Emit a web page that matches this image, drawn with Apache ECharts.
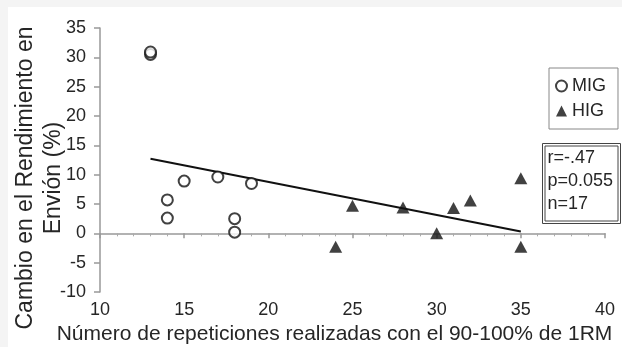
<!DOCTYPE html>
<html>
<head>
<meta charset="utf-8">
<script src="https://cdn.jsdelivr.net/npm/echarts@6/dist/echarts.min.js"></script>
<style>
  html, body { margin: 0; padding: 0; background: #f4f4f4; }
  #chart { width: 622px; height: 347px; }
</style>
</head>
<body>
<div id="chart"></div>
<script>
// grupo MIG (circulos), dos puntos casi superpuestos en x=13
var migData = [[13, 30.5], [13, 30.9], [14, 5.7], [14, 2.6], [15, 8.9], [17, 9.6], [18, 2.5], [18, 0.2], [19, 8.5]];
// grupo HIG (triangulos)
var higData = [[24, -2.3], [25, 4.7], [28, 4.4], [30, 0], [31, 4.3], [32, 5.6], [35, 9.4], [35, -2.3]];
// recta de regresion
var fitLine = [[13, 12.7], [35, 0.3]];
var statsLines = ["r=-.47", "p=0.055", "n=17"];

var textColor = "#262626";
var fontFamily = "Liberation Sans, Arial, sans-serif";

var chart = echarts.init(document.getElementById("chart"));
chart.setOption({
  backgroundColor: "#f4f4f4",
  animation: false,
  textStyle: { fontFamily: fontFamily, color: textColor },
  graphic: [
    {
      type: "rect",
      z: -10,
      shape: { x: 8, y: 7, width: 614, height: 340 },
      style: { fill: "#fff" },
    },
    {
      type: "group",
      left: 542,
      top: 143,
      children: [
        { type: "rect", shape: { x: 0, y: 0, width: 78, height: 80 }, style: { fill: "#fff", stroke: "#444", lineWidth: 1 } },
        { type: "rect", shape: { x: 2.5, y: 2.5, width: 73, height: 75 }, style: { fill: "none", stroke: "#444", lineWidth: 1 } },
        {
          type: "text",
          left: 5,
          top: 3,
          style: {
            text: statsLines.join("\n"),
            fontSize: 18,
            lineHeight: 23,
            fontFamily: fontFamily,
            fill: textColor,
          },
        },
      ],
    },
  ],
  legend: {
    orient: "vertical",
    left: 549,
    top: 68,
    padding: [9, 12, 9, 6],
    itemGap: 7,
    itemWidth: 11,
    itemHeight: 11,
    borderColor: "#888",
    borderWidth: 1,
    backgroundColor: "#fff",
    textStyle: { fontSize: 18, color: textColor, fontFamily: fontFamily },
    data: [
      { name: "MIG", icon: "circle" },
      { name: "HIG", icon: "triangle" },
    ],
  },
  grid: { left: 100, right: 17, top: 28, bottom: 55, containLabel: false, outerBoundsMode: "none" },
  xAxis: {
    type: "value",
    min: 10,
    max: 40,
    interval: 5,
    name: "Número de repeticiones realizadas con el 90-100% de 1RM",
    nameLocation: "middle",
    nameGap: 32,
    nameMoveOverlap: false,
    nameTextStyle: { fontSize: 21, color: textColor, padding: [0, 36, 0, 0] },
    axisLine: { show: true, lineStyle: { color: "#999", width: 1.5 } },
    axisTick: { show: true, length: 5, lineStyle: { color: "#999", width: 1.5 } },
    minorTick: { show: true, splitNumber: 5, length: 3, lineStyle: { color: "#aaa" } },
    axisLabel: { fontSize: 18, color: textColor, margin: 9 },
    splitLine: { show: false },
  },
  yAxis: {
    type: "value",
    min: -10,
    max: 35,
    interval: 5,
    name: "Cambio en el Rendimiento en\nEnvión (%)",
    nameLocation: "middle",
    nameGap: 32,
    nameMoveOverlap: false,
    nameTextStyle: { fontSize: 23, lineHeight: 28, color: textColor, padding: [0, 36, 0, 0] },
    axisLine: { show: true, lineStyle: { color: "#999", width: 1.5 } },
    axisTick: { show: true, length: 6, lineStyle: { color: "#999", width: 1.5 } },
    axisLabel: { fontSize: 18, color: textColor, margin: 14 },
    splitLine: { show: false },
  },
  series: [
    {
      name: "MIG",
      type: "scatter",
      symbol: "circle",
      symbolSize: 11,
      data: migData,
      itemStyle: { color: "#fff", borderColor: "#111", borderWidth: 2 },
      z: 3,
    },
    {
      name: "HIG",
      type: "scatter",
      symbol: "triangle",
      symbolSize: [13, 12],
      data: higData,
      itemStyle: { color: "#111" },
      z: 3,
    },
    {
      name: "fit",
      type: "line",
      data: fitLine,
      symbol: "none",
      silent: true,
      lineStyle: { color: "#111", width: 2 },
      z: 2,
    },
  ],
});
</script>
</body>
</html>
